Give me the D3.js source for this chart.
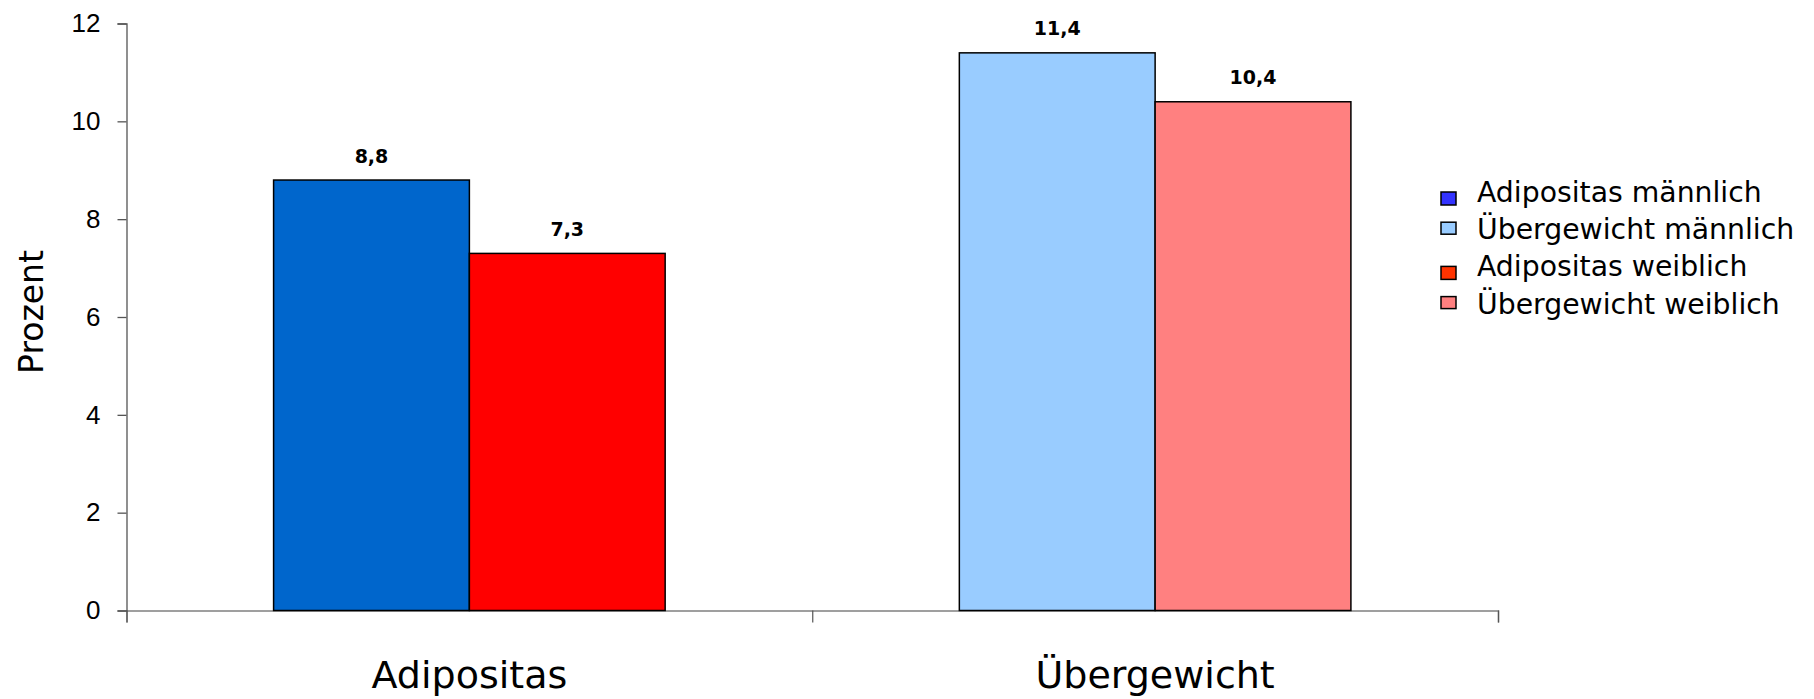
<!DOCTYPE html>
<html><head><meta charset="utf-8">
<script src="https://cdn.jsdelivr.net/npm/d3@7"></script>
<style>html,body{margin:0;padding:0;background:#fff;}</style>
</head><body>
<svg id="chart" width="1814" height="699"></svg>
<script>
const categories = ["Adipositas", "Übergewicht"];
const sexes = ["männlich", "weiblich"];
const maleValues = [8.8, 11.4];
const femaleValues = [7.3, 10.4];
const valueLabels = [["8,8", "7,3"], ["11,4", "10,4"]];
const yTicks = [0, 2, 4, 6, 8, 10, 12];
const barColors = [["#0066CC", "#FF0000"], ["#99CCFF", "#FF8080"]];
const legendLabels = ["Adipositas männlich", "Übergewicht männlich", "Adipositas weiblich", "Übergewicht weiblich"];
const legendColors = ["#3333FF", "#99CCFF", "#FF3300", "#FF8080"];

(function () {
const svg = d3.select("#chart");
const mLeft = 126.5, mRight = 1498, mTop = 23.5, mBottom = 610.5;

const y = d3.scaleLinear().domain([0, 12]).range([mBottom, mTop]);
const x = d3.scaleBand().domain(categories).range([mLeft, mRight]).paddingInner(0).paddingOuter(0);
const groupFrac = 0.571;
const xs = d3.scaleBand().domain(sexes)
  .range([x.bandwidth() * (1 - groupFrac) / 2, x.bandwidth() * (1 + groupFrac) / 2]);

const data = [];
categories.forEach((c, i) => {
  data.push({cat: c, sex: sexes[0], v: maleValues[i], label: valueLabels[i][0], color: barColors[i][0]});
  data.push({cat: c, sex: sexes[1], v: femaleValues[i], label: valueLabels[i][1], color: barColors[i][1]});
});

// x axis
const xAxisScale = d3.scaleLinear().domain([0, categories.length]).range([mLeft, mRight]);
const xAxis = svg.append("g").attr("transform", `translate(0,${mBottom})`)
  .call(d3.axisBottom(xAxisScale).tickValues(d3.range(categories.length + 1)).tickSize(12).tickFormat(""));
xAxis.select(".domain").attr("stroke", "#808080").attr("stroke-width", 1.5);
xAxis.selectAll(".tick line").attr("stroke", "#555").attr("stroke-width", 1.2);

// bars
svg.append("g").selectAll("rect").data(data).join("rect")
  .attr("x", d => x(d.cat) + xs(d.sex))
  .attr("y", d => y(d.v))
  .attr("width", xs.bandwidth())
  .attr("height", d => y(0) - y(d.v))
  .attr("fill", d => d.color)
  .attr("stroke", "#000")
  .attr("stroke-width", 1.5);

// value labels
svg.append("g").selectAll("text").data(data).join("text")
  .attr("x", d => x(d.cat) + xs(d.sex) + xs.bandwidth() / 2)
  .attr("y", d => y(d.v) - 17.5)
  .attr("text-anchor", "middle")
  .attr("font-family", "DejaVu Sans, Verdana, sans-serif")
  .attr("font-weight", "bold")
  .attr("font-size", 19)
  .attr("fill", "#000")
  .text(d => d.label);

// y axis
const yAxis = svg.append("g").attr("transform", `translate(${mLeft},0)`)
  .call(d3.axisLeft(y).tickValues(yTicks).tickSize(9).tickPadding(17).tickFormat(d3.format("d")));
yAxis.select(".domain").attr("stroke", "#555").attr("stroke-width", 1.3);
yAxis.selectAll(".tick line").attr("stroke", "#555").attr("stroke-width", 1.3);
yAxis.selectAll(".tick text").attr("font-family", "Liberation Sans, Arial, sans-serif").attr("font-size", 26).attr("fill", "#000");

// category labels
svg.append("g").selectAll("text").data(categories).join("text")
  .attr("x", d => x(d) + x.bandwidth() / 2)
  .attr("y", 688)
  .attr("text-anchor", "middle")
  .attr("font-family", "DejaVu Sans, Verdana, sans-serif")
  .attr("font-size", 38)
  .attr("fill", "#000")
  .text(d => d);

// y title
svg.append("text")
  .attr("transform", "translate(43,312) rotate(-90)")
  .attr("text-anchor", "middle")
  .attr("font-family", "DejaVu Sans, Verdana, sans-serif")
  .attr("font-size", 33)
  .attr("fill", "#000")
  .text("Prozent");

// legend
const lg = svg.append("g").attr("transform", "translate(1441,202)");
const rows = lg.selectAll("g").data(legendLabels).join("g")
  .attr("transform", (d, i) => `translate(0,${i * 37.2})`);
rows.append("rect").attr("x", 0)
  .attr("y", (d, i) => (i % 2 === 0 ? -10 : -17))
  .attr("width", 15)
  .attr("height", (d, i) => (i % 2 === 0 ? 13 : 12))
  .attr("fill", (d, i) => legendColors[i]).attr("stroke", "#000").attr("stroke-width", 1.5);
rows.append("text").attr("x", 36).attr("y", 0)
  .attr("font-family", "DejaVu Sans, Verdana, sans-serif")
  .attr("font-size", 28.3)
  .attr("fill", "#000")
  .text(d => d);
})();
</script>
</body></html>
